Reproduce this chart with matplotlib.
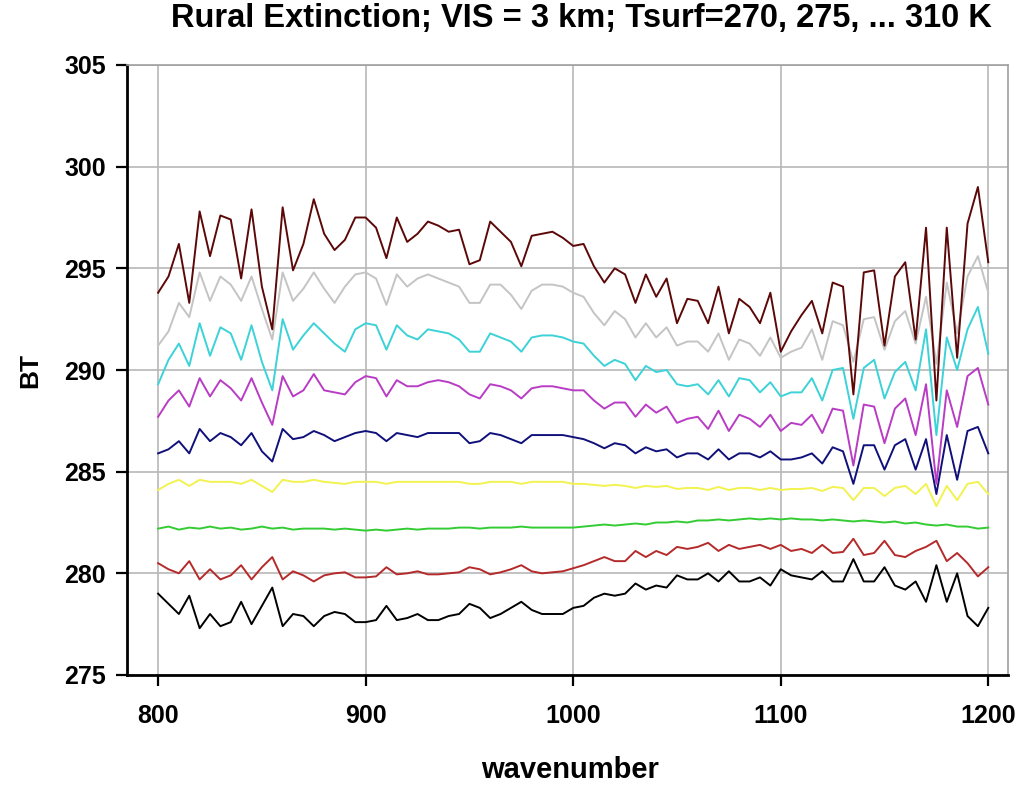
import numpy as np
import matplotlib
matplotlib.use("Agg")
import matplotlib.pyplot as plt

# spectral grid (cm-1)
wavenumber = np.arange(800, 1201, 5)

# brightness temperature for each surface temperature
bt270 = [279.0, 278.5, 278.0, 278.9, 277.3, 278.0, 277.4, 277.6, 278.6, 277.5, 278.4, 279.3, 277.4, 278.0, 277.9, 277.4, 277.9, 278.1, 278.0, 277.6,
         277.6, 277.7, 278.4, 277.7, 277.8, 278.0, 277.7, 277.7, 277.9, 278.0, 278.5, 278.3, 277.8, 278.0, 278.3, 278.6, 278.2, 278.0, 278.0, 278.0,
         278.3, 278.4, 278.8, 279.0, 278.9, 279.0, 279.5, 279.2, 279.4, 279.3, 279.9, 279.7, 279.7, 280.0, 279.6, 280.1, 279.6, 279.6, 279.8, 279.4,
         280.2, 279.9, 279.8, 279.7, 280.1, 279.6, 279.6, 280.7, 279.6, 279.6, 280.3, 279.4, 279.2, 279.6, 278.6, 280.4, 278.6, 280.0, 277.9, 277.4, 278.3]
bt275 = [280.5, 280.2, 280.0, 280.6, 279.7, 280.2, 279.7, 279.9, 280.4, 279.7, 280.3, 280.8, 279.7, 280.1, 279.9, 279.6, 279.9, 280.0, 280.05, 279.8,
         279.8, 279.85, 280.3, 279.95, 280.0, 280.1, 279.95, 279.95, 280.0, 280.05, 280.3, 280.2, 279.95, 280.05, 280.2, 280.4, 280.1, 280.0, 280.05, 280.1,
         280.25, 280.4, 280.6, 280.8, 280.6, 280.6, 281.1, 280.8, 281.1, 280.9, 281.3, 281.2, 281.3, 281.5, 281.1, 281.4, 281.2, 281.3, 281.4, 281.2,
         281.4, 281.1, 281.2, 281.0, 281.4, 281.0, 281.05, 281.7, 280.9, 281.0, 281.6, 280.9, 280.8, 281.1, 281.3, 281.6, 280.6, 281.0, 280.5, 279.85, 280.3]
bt280 = [282.2, 282.3, 282.15, 282.25, 282.2, 282.3, 282.2, 282.25, 282.15, 282.2, 282.3, 282.2, 282.25, 282.15, 282.2, 282.2, 282.2, 282.15, 282.2, 282.15,
         282.1, 282.15, 282.1, 282.15, 282.2, 282.15, 282.2, 282.2, 282.2, 282.25, 282.25, 282.2, 282.25, 282.25, 282.25, 282.3, 282.25, 282.25, 282.25, 282.25,
         282.25, 282.3, 282.35, 282.4, 282.35, 282.4, 282.45, 282.4, 282.5, 282.5, 282.55, 282.5, 282.6, 282.6, 282.65, 282.6, 282.65, 282.7, 282.65, 282.7,
         282.65, 282.7, 282.65, 282.65, 282.6, 282.65, 282.6, 282.55, 282.6, 282.55, 282.5, 282.55, 282.45, 282.5, 282.4, 282.35, 282.4, 282.3, 282.3, 282.2, 282.25]
bt285 = [284.1, 284.4, 284.6, 284.3, 284.6, 284.5, 284.5, 284.5, 284.4, 284.6, 284.3, 284.0, 284.6, 284.5, 284.5, 284.6, 284.5, 284.45, 284.4, 284.5,
         284.5, 284.5, 284.4, 284.5, 284.5, 284.5, 284.5, 284.5, 284.5, 284.5, 284.4, 284.4, 284.5, 284.5, 284.5, 284.4, 284.5, 284.5, 284.5, 284.5,
         284.4, 284.4, 284.35, 284.3, 284.35, 284.3, 284.2, 284.3, 284.25, 284.3, 284.15, 284.2, 284.2, 284.1, 284.25, 284.1, 284.2, 284.2, 284.1, 284.2,
         284.1, 284.15, 284.15, 284.2, 284.05, 284.25, 284.2, 283.6, 284.2, 284.2, 283.8, 284.2, 284.3, 283.9, 284.4, 283.3, 284.3, 283.6, 284.4, 284.5, 283.9]
bt290 = [285.9, 286.1, 286.5, 285.9, 287.1, 286.5, 286.9, 286.7, 286.3, 286.9, 286.0, 285.5, 287.1, 286.6, 286.7, 287.0, 286.8, 286.5, 286.7, 286.9,
         287.0, 286.9, 286.5, 286.9, 286.8, 286.7, 286.9, 286.9, 286.9, 286.9, 286.4, 286.5, 286.9, 286.8, 286.6, 286.4, 286.8, 286.8, 286.8, 286.8,
         286.7, 286.6, 286.4, 286.15, 286.4, 286.3, 285.9, 286.2, 286.0, 286.1, 285.7, 285.9, 285.9, 285.6, 286.1, 285.6, 285.9, 285.9, 285.7, 286.0,
         285.6, 285.6, 285.7, 285.9, 285.4, 286.2, 286.0, 284.4, 286.3, 286.3, 285.1, 286.3, 286.6, 285.1, 286.6, 283.9, 286.8, 284.6, 287.0, 287.2, 285.9]
bt295 = [287.7, 288.5, 289.0, 288.2, 289.6, 288.7, 289.5, 289.1, 288.5, 289.6, 288.4, 287.3, 289.7, 288.7, 289.0, 289.8, 289.0, 288.9, 288.8, 289.4,
         289.7, 289.6, 288.7, 289.5, 289.2, 289.2, 289.4, 289.5, 289.4, 289.2, 288.8, 288.6, 289.3, 289.2, 289.0, 288.6, 289.1, 289.2, 289.2, 289.1,
         289.0, 289.0, 288.5, 288.1, 288.4, 288.4, 287.7, 288.3, 287.9, 288.2, 287.4, 287.6, 287.7, 287.1, 288.0, 287.0, 287.8, 287.6, 287.2, 287.8,
         287.0, 287.4, 287.3, 287.8, 286.9, 288.1, 288.0, 285.3, 288.3, 288.2, 286.4, 288.1, 288.6, 286.8, 289.3, 284.4, 289.0, 287.2, 289.7, 290.1, 288.3]
bt300 = [289.3, 290.5, 291.3, 290.2, 292.3, 290.7, 292.1, 291.8, 290.5, 292.2, 290.4, 289.0, 292.5, 291.0, 291.7, 292.3, 291.8, 291.3, 290.9, 292.0,
         292.3, 292.2, 291.0, 292.2, 291.7, 291.5, 292.0, 291.9, 291.8, 291.5, 290.9, 290.9, 291.8, 291.6, 291.4, 290.9, 291.6, 291.7, 291.7, 291.6,
         291.4, 291.3, 290.7, 290.2, 290.5, 290.3, 289.5, 290.2, 289.9, 290.0, 289.3, 289.2, 289.3, 288.8, 289.5, 288.7, 289.6, 289.5, 288.9, 289.4,
         288.7, 288.9, 288.9, 289.6, 288.5, 290.0, 290.1, 287.6, 290.1, 290.5, 288.6, 289.9, 290.4, 289.0, 292.0, 286.8, 291.6, 290.0, 292.0, 293.1, 290.8]
bt305 = [291.2, 291.9, 293.3, 292.6, 294.8, 293.4, 294.6, 294.2, 293.4, 294.6, 293.0, 291.5, 294.8, 293.4, 294.0, 294.8, 294.0, 293.3, 294.1, 294.7,
         294.8, 294.5, 293.2, 294.7, 294.1, 294.5, 294.7, 294.5, 294.3, 294.1, 293.3, 293.3, 294.2, 294.2, 293.7, 293.0, 293.9, 294.2, 294.2, 294.1,
         293.8, 293.6, 292.8, 292.2, 292.9, 292.5, 291.6, 292.3, 291.6, 292.1, 291.2, 291.4, 291.4, 290.9, 291.8, 290.5, 291.5, 291.3, 290.7, 291.6,
         290.6, 290.9, 291.1, 292.0, 290.5, 292.4, 292.2, 290.4, 292.5, 292.6, 291.0, 292.4, 292.9, 291.3, 293.6, 290.3, 294.3, 291.8, 294.6, 295.6, 293.8]
bt310 = [293.8, 294.6, 296.2, 293.3, 297.8, 295.6, 297.6, 297.4, 294.5, 297.9, 294.1, 292.0, 298.0, 294.9, 296.2, 298.4, 296.7, 295.9, 296.4, 297.5,
         297.5, 297.0, 295.5, 297.5, 296.3, 296.7, 297.3, 297.1, 296.8, 296.9, 295.2, 295.4, 297.3, 296.8, 296.3, 295.1, 296.6, 296.7, 296.8, 296.5,
         296.1, 296.2, 295.1, 294.3, 295.0, 294.7, 293.3, 294.7, 293.6, 294.5, 292.3, 293.5, 293.4, 292.3, 294.1, 291.8, 293.5, 293.1, 292.3, 293.8,
         290.9, 291.9, 292.7, 293.4, 291.8, 294.3, 294.1, 288.8, 294.8, 294.9, 291.2, 294.6, 295.3, 291.5, 297.0, 288.5, 297.0, 290.6, 297.2, 299.0, 295.3]

curves = [bt270, bt275, bt280, bt285, bt290, bt295, bt300, bt305, bt310]
colors = ["#000000", "#b52a2a", "#33cc33", "#f2f250", "#10107a",
          "#b83cc4", "#3cd2d8", "#c4c4c4", "#5c0808"]

plt.rcParams['font.family'] = ['Liberation Sans', 'DejaVu Sans']
plt.rcParams['font.weight'] = 'bold'

fig = plt.figure(figsize=(10.24, 7.87), dpi=100)
ax = fig.add_axes([127 / 1024, 1 - 675 / 787, 881 / 1024, 610 / 787])

for values, color in zip(curves, colors):
    ax.plot(wavenumber, values, color=color, lw=1.4)

ax.set_xlim(785, 1209.5)
ax.set_ylim(275, 305)
ax.set_xticks(range(800, 1201, 100))
ax.set_yticks(range(275, 306, 5))
ax.grid(True, color="#b8b8b8", lw=1.2)
ax.set_axisbelow(True)

for side in ("left", "bottom"):
    ax.spines[side].set_linewidth(2.0)
    ax.spines[side].set_color("black")
for side in ("top", "right"):
    ax.spines[side].set_linewidth(1.2)
    ax.spines[side].set_color("#a0a0a0")

ax.tick_params(direction="out", length=8, width=1.6, labelsize=18)
ax.tick_params(axis="x", pad=13)
ax.tick_params(axis="y", pad=7)
for lab in ax.get_xticklabels() + ax.get_yticklabels():
    lab.set_fontweight("bold")

fig.text(581 / 1024, 1 - 18 / 787, "Rural Extinction; VIS = 3 km; Tsurf=270, 275, ... 310 K",
         ha="center", va="center", fontsize=23.5, fontweight="bold")
fig.text(30 / 1024, 1 - 370 / 787, "BT", rotation=90, ha="center", va="center",
         fontsize=19, fontweight="bold")
fig.text(570 / 1024, 1 - 770 / 787, "wavenumber", ha="center", va="center",
         fontsize=21, fontweight="bold")

fig.savefig("out.png", dpi=100)
